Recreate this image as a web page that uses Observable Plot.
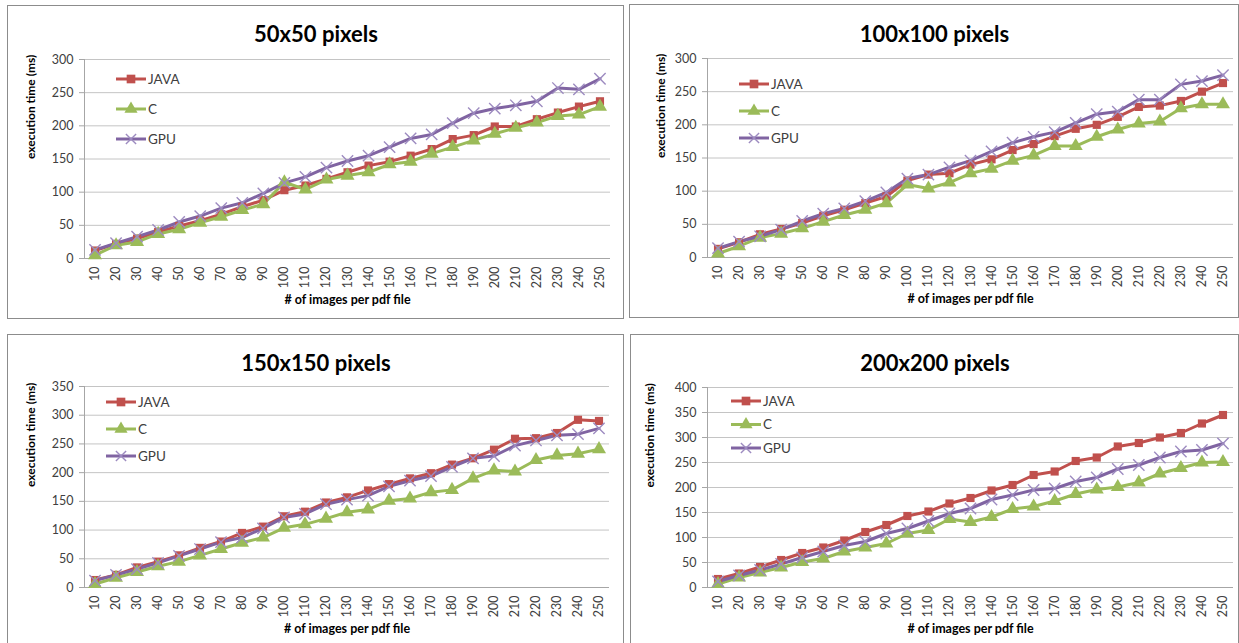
<!DOCTYPE html>
<html><head><meta charset="utf-8">
<script src="https://cdn.jsdelivr.net/npm/d3@7"></script>
<script src="https://cdn.jsdelivr.net/npm/@observablehq/plot@0.6"></script>
<style>
body{margin:0;background:#fff;font-family:Lato,"Open Sans",sans-serif;}
#wrap{position:relative;width:1239px;height:643px;overflow:hidden;background:#fff;}
#wrap svg{position:absolute;border:1px solid #8c8c8c;background:#fff;}
</style></head><body><div id="wrap"></div>
<script>
// categories (# of images per pdf file)
const xs = [10,20,30,40,50,60,70,80,90,100,110,120,130,140,150,160,170,180,190,200,210,220,230,240,250];
const seriesNames = ["JAVA","C","GPU"];
const colors = ["#C0504D","#9BBB59","#8064A2"];

// 50x50 pixels
const java50 = [12,22,30,40,49,57,67,78,88,103,110,120,130,140,146,155,165,180,186,199,199,210,220,229,237];
const c50    = [5,20,25,37,44,54,63,73,82,115,104,119,125,130,142,146,158,168,178,188,197,205,215,217,229];
const gpu50  = [13,23,33,43,55,64,76,84,98,114,123,137,147,155,168,181,187,204,219,226,231,237,257,255,271];
// 100x100 pixels
const java100 = [13,23,35,43,52,63,72,82,92,116,125,127,140,148,162,171,183,194,200,212,227,229,236,250,263];
const c100    = [6,17,30,36,44,54,64,72,82,110,104,113,127,134,146,154,168,168,182,193,202,205,225,231,231];
const gpu100  = [14,24,32,42,55,66,74,85,98,119,125,136,146,160,173,182,189,203,216,220,238,238,261,266,275];
// 150x150 pixels
const java150 = [13,22,35,45,56,69,80,95,106,124,132,148,157,169,180,190,199,214,225,240,259,260,269,292,290];
const c150    = [6,17,27,37,45,56,67,78,87,104,110,120,131,136,151,155,166,170,190,204,202,222,230,233,241];
const gpu150  = [12,22,32,43,55,67,79,87,103,122,128,145,153,160,176,186,194,210,225,229,247,256,265,267,277];
// 200x200 pixels
const java200 = [17,28,41,55,69,80,94,111,125,143,152,168,179,194,205,225,232,253,260,282,289,300,309,328,345];
const c200    = [7,20,30,40,51,58,72,80,88,108,115,137,131,141,157,162,173,187,196,201,210,228,239,250,251];
const gpu200  = [12,24,35,47,60,72,84,92,108,118,133,148,158,176,185,195,198,212,220,237,245,260,272,275,288];

// y tick labels
const yTicks300 = [0,50,100,150,200,250,300];
const yTicks350 = [0,50,100,150,200,250,300,350];
const yTicks400 = [0,50,100,150,200,250,300,350,400];

const titles = ["50x50 pixels","100x100 pixels","150x150 pixels","200x200 pixels"];
const yLabel = "execution time (ms)";
const xLabel = "# of images per pdf file";

const panels = [
  {title:titles[0], values:[java50,c50,gpu50], ticks:yTicks300, left:7, top:5, w:615, h:312, m:[53,13,60,76], yDx:-53, tDy:-25, lg:{x:108, y:73, dy:30}},
  {title:titles[1], values:[java100,c100,gpu100], ticks:yTicks300, left:629, top:4, w:608, h:312, m:[53,5,60,77], yDx:-46, tDy:-24, lg:{x:109, y:79, dy:27}},
  {title:titles[2], values:[java150,c150,gpu150], ticks:yTicks350, left:7, top:334, w:615, h:312, m:[51,14,60,76], yDx:-53, tDy:-23, lg:{x:98, y:67, dy:27}},
  {title:titles[3], values:[java200,c200,gpu200], ticks:yTicks400, left:630, top:334, w:607, h:312, m:[52,5,60,76], yDx:-57, tDy:-24, lg:{x:100, y:66, dy:23.5}}
];

const wrap = document.getElementById("wrap");
const gpuMarker = "#9d8bc0";

panels.forEach(p => {
  const data = [];
  p.values.forEach((arr, si) => arr.forEach((v, i) => data.push({x: xs[i], y: v, s: seriesNames[si]})));
  const yMax = p.ticks[p.ticks.length - 1];
  const [mt, mr, mb, ml] = p.m;
  const svg = Plot.plot({
    width: p.w, height: p.h,
    marginTop: mt, marginRight: mr, marginBottom: mb, marginLeft: ml,
    x: {type: "linear", domain: [5, 255]},
    y: {domain: [0, yMax]},
    color: {domain: seriesNames, range: colors},
    style: {fontFamily: "Lato, 'Open Sans', sans-serif", fontSize: "12px", background: "#fff", overflow: "visible"},
    marks: [
      Plot.ruleY(p.ticks, {stroke: "#c4c4c4", strokeWidth: 1}),
      Plot.ruleX([5], {stroke: "#a6a6a6"}),
      Plot.ruleY([0], {stroke: "#a6a6a6"}),
      Plot.axisY({ticks: p.ticks, tickSize: 5, tickPadding: 6, stroke: "#a6a6a6", fill: "#404040", label: null, fontSize: 12.5}),
      Plot.axisX({ticks: xs, tickRotate: -90, tickSize: 0, tickPadding: 8, fill: "#404040", label: null, fontSize: 12.5, tickFormat: d => String(d)}),
      Plot.line(data, {x: "x", y: "y", z: "s", stroke: "s", strokeWidth: 3}),
      Plot.dot(data.filter(d => d.s === "JAVA"), {x: "x", y: "y", symbol: "square", fill: colors[0], r: 4.6}),
      Plot.dot(data.filter(d => d.s === "C"), {x: "x", y: "y", symbol: "triangle", fill: colors[1], r: 5.2}),
      Plot.dot(data.filter(d => d.s === "GPU"), {x: "x", y: "y", symbol: "times", stroke: gpuMarker, strokeWidth: 1.4, r: 5.2}),
      Plot.text([p.title], {text: d => d, frameAnchor: "top", dx: (mr - ml) / 2, dy: p.tDy, fontSize: 22, fontWeight: "bold", fill: "#000", lineAnchor: "middle"}),
      Plot.text([yLabel], {text: d => d, frameAnchor: "left", dx: p.yDx, rotate: -90, fontSize: 12, fontWeight: "bold", fill: "#000"}),
      Plot.text([xLabel], {text: d => d, frameAnchor: "bottom", dy: 45, fontSize: 12.5, fontWeight: "bold", fill: "#000"})
    ]
  });
  svg.style.left = p.left + "px";
  svg.style.top = p.top + "px";
  // legend
  const g = d3.select(svg).append("g").attr("font-family", "Lato, 'Open Sans', sans-serif").attr("text-anchor", "start");
  seriesNames.forEach((name, i) => {
    const y = p.lg.y + i * p.lg.dy;
    const x0 = p.lg.x;
    g.append("line").attr("x1", x0).attr("x2", x0 + 30).attr("y1", y).attr("y2", y)
      .attr("stroke", colors[i]).attr("stroke-width", 3);
    const sym = i === 0 ? d3.symbolSquare : i === 1 ? d3.symbolTriangle : d3.symbolTimes;
    const path = g.append("path").attr("d", d3.symbol(sym, i === 2 ? 70 : 75)()).attr("transform", `translate(${x0 + 15},${y})`);
    if (i === 2) path.attr("fill", "none").attr("stroke", gpuMarker).attr("stroke-width", 1.4);
    else path.attr("fill", colors[i]);
    g.append("text").attr("x", x0 + 32).attr("y", y).attr("dy", "0.35em").attr("font-size", 13.5)
      .attr("text-anchor", "start").attr("fill", "#404040").text(name);
  });
  wrap.appendChild(svg);
});
</script>
</body></html>
